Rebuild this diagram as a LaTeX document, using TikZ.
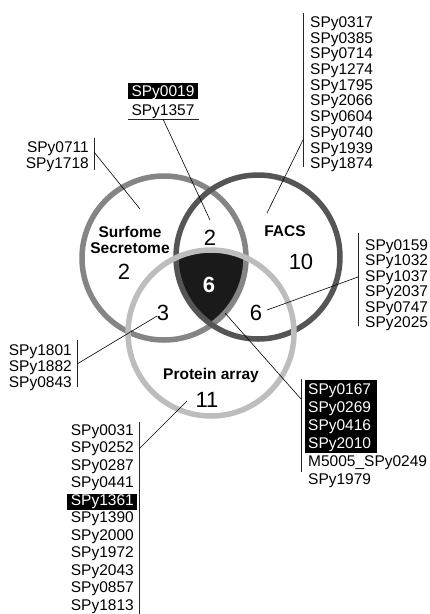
\documentclass[tikz,border=0pt]{standalone}
\usepackage{fontspec}
\setmainfont{Liberation Sans}
\definecolor{surfc}{HTML}{858585}
\definecolor{facsc}{HTML}{555555}
\definecolor{protc}{HTML}{BDBDBD}
\definecolor{corec}{HTML}{1A1A1A}
\begin{document}
\begin{tikzpicture}[x=1pt,y=-1pt,
  lbl/.style={font=\fontsize{15.5}{15.7}\selectfont, inner sep=0pt},
  hd/.style={font=\fontsize{15.5}{15.3}\selectfont\bfseries, inner sep=0pt, align=center},
  num/.style={font=\fontsize{22}{22}\selectfont, inner sep=0pt},
  ring/.style={line width=5.5pt},
  bar/.style={line width=0.8pt, black!85},
  lead/.style={line width=0.6pt}]
\useasboundingbox[fill=white] (0,0) rectangle (429,614);

% circle centres
\coordinate (S) at (164,258);
\coordinate (F) at (258,257);
\coordinate (P) at (211,333);

% triple intersection
\begin{scope}
  \clip (S) circle (82pt);
  \clip (F) circle (82pt);
  \fill[corec] (P) circle (83pt);
\end{scope}

% rings
\draw[ring, surfc] (S) circle (82pt);
\draw[ring, facsc] (F) circle (82pt);
\draw[ring, protc] (P) circle (83pt);

% set titles
\node[hd] (tS) at (130,240) {Surfome\\Secretome};
\node[hd] (tF) at (285,231) {FACS};
\node[hd] (tP) at (211,375) {Protein array};

% counts
\node[num] (nS) at (124,272) {2};
\node[num] (nF) at (301,262) {10};
\node[num] (nSF) at (210,238) {2};
\node[num, text=white, font=\fontsize{22}{22}\selectfont\bfseries] (nC) at (209,285) {6};
\node[num] (nSP) at (163,313) {3};
\node[num] (nFP) at (256,313) {6};
\node[num] (nP) at (207,400) {11};

% ---- FACS list (top right)
\foreach \t [count=\i] in {SPy0317,SPy0385,SPy0714,SPy1274,SPy1795,SPy2066,SPy0604,SPy0740,SPy1939,SPy1874}
  \node[lbl, anchor=base west] (fl\i) at (310,{27.4+(\i-1)*15.7}) {\t};
\draw[bar] (303,13) -- (303,167);
\coordinate (fA) at (303,140);
\coordinate (fB) at (267,213);
\draw[lead] (fA) -- (fB);

% ---- Surfome/FACS list (top middle)
\fill[black] (128,83) rectangle (198,99);
\node[lbl, anchor=base, text=white] (sf1) at (163,96.4) {SPy0019};
\node[lbl, anchor=base] (sf2) at (163,115.4) {SPy1357};
\draw[bar] (128,119) -- (199,119);
\coordinate (sfA) at (163,119);
\coordinate (sfB) at (210,220);
\draw[lead] (sfA) -- (sfB);

% ---- Surfome list (top left)
\foreach \t [count=\i] in {SPy0711,SPy1718}
  \node[lbl, anchor=base east] (sl\i) at (89,{152.4+(\i-1)*16.5}) {\t};
\draw[bar] (94,138) -- (94,170);
\coordinate (sA) at (94,152);
\coordinate (sB) at (140,209);
\draw[lead] (sA) -- (sB);

% ---- FACS/Protein list (right)
\foreach \t [count=\i] in {SPy0159,SPy1032,SPy1037,SPy2037,SPy0747,SPy2025}
  \node[lbl, anchor=base west] (fp\i) at (365,{250.4+(\i-1)*15.4}) {\t};
\draw[bar] (358,233) -- (358,326);
\coordinate (fpA) at (358,277);
\coordinate (fpB) at (267,310);
\draw[lead] (fpA) -- (fpB);

% ---- Surfome/Protein list (left)
\foreach \t [count=\i] in {SPy1801,SPy1882,SPy0843}
  \node[lbl, anchor=base east] (sp\i) at (72,{355.4+(\i-1)*15.8}) {\t};
\draw[bar] (77,340) -- (77,387);
\coordinate (spA) at (77,364);
\coordinate (spB) at (157,316);
\draw[lead] (spA) -- (spB);

% ---- Protein list (bottom left)
\fill[black] (67,494) rectangle (137,510);
\foreach \t/\c [count=\i] in {SPy0031/black,SPy0252/black,SPy0287/black,SPy0441/black,SPy1361/white,SPy1390/black,SPy2000/black,SPy1972/black,SPy2043/black,SPy0857/black,SPy1813/black}
  \node[lbl, anchor=base east, text=\c] (pl\i) at (134,{435.4+(\i-1)*17.5}) {\t};
\draw[bar] (139,422) -- (139,614);
\coordinate (pA) at (139,449);
\coordinate (pB) at (187,401);
\draw[lead] (pA) -- (pB);

% ---- Core list (bottom right)
\fill[black] (305,380) rectangle (377,453);
\foreach \t/\c [count=\i] in {SPy0167/white,SPy0269/white,SPy0416/white,SPy2010/white,M5005\_SPy0249/black,SPy1979/black}
  \node[lbl, anchor=base west, text=\c] (cl\i) at (308,{394.4+(\i-1)*18}) {\t};
\draw[bar] (301,379) -- (301,472);
\coordinate (cA) at (301,399);
\coordinate (cB) at (225,313);
\draw[lead] (cA) -- (cB);
\end{tikzpicture}
\end{document}
